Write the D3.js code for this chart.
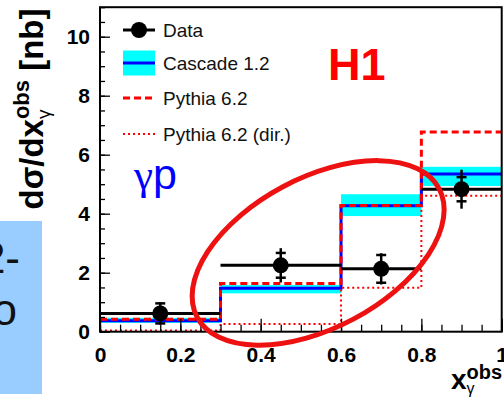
<!DOCTYPE html>
<html lang="en">
<head>
    <meta charset="UTF-8">
    <title>H1 gamma-p x_gamma cross section</title>
    <script src="https://d3js.org/d3.v7.min.js"></script>
    <style>
        body { margin: 0; background: #fff; }
        svg { display: block; font-family: "Liberation Sans", Arial, sans-serif; }
    </style>
</head>
<body>
    <div id="chart"></div>

    <script>
        // bins in x_gamma^obs and measured / predicted values (nb)
        const binEdges   = [0, 0.3, 0.6, 0.8, 1.0];
        const dataX      = [0.15, 0.45, 0.7, 0.9];
        const dataY      = [0.62, 2.25, 2.13, 4.83];
        const statErr    = [0.34, 0.42, 0.47, 0.41];
        const totErr     = [0.38, 0.58, 0.53, 0.66];
        const cascade    = [0.37, 1.47, 4.27, 5.35];
        const cascadeLo  = [0.30, 1.30, 3.92, 4.94];
        const cascadeHi  = [0.47, 1.58, 4.66, 5.59];
        const pythia     = [0.42, 1.63, 4.28, 6.77];
        const pythiaDir  = [0.04, 0.26, 1.49, 4.61];

        const xTicks = [0, 0.2, 0.4, 0.6, 0.8, 1];
        const yTicks = [0, 2, 4, 6, 8, 10];
        const legendLabels = ["Data", "Cascade 1.2", "Pythia 6.2", "Pythia 6.2 (dir.)"];

        const W = 504, H = 401;
        const margin = { top: 7.2, right: 2.3, bottom: 69.3, left: 100 };

        const svg = d3.select("#chart").append("svg")
            .attr("width", W).attr("height", H);

        const x = d3.scaleLinear().domain([0, 1]).range([margin.left, W - margin.right]);
        const y = d3.scaleLinear().domain([0, 11]).range([H - margin.bottom, margin.top]);

        // left panel fragment (from slide)
        svg.append("rect").attr("x", 0).attr("y", 221).attr("width", 42).attr("height", 173)
            .attr("fill", "#99ccff");
        svg.append("text").attr("x", 20).attr("y", 273).attr("text-anchor", "end")
            .attr("font-size", 44).attr("fill", "#111").text("2-");
        svg.append("text").attr("x", 17).attr("y", 325).attr("text-anchor", "end")
            .attr("font-size", 44).attr("fill", "#111").text("o");

        const plot = svg.append("g");

        // step helper
        function steps(vals) {
            const pts = [];
            vals.forEach((v, i) => { pts.push([binEdges[i], v]); pts.push([binEdges[i + 1], v]); });
            return pts;
        }
        const stepLine = d3.line().x(d => x(d[0])).y(d => y(d[1]));

        // cascade uncertainty band
        plot.selectAll(".band").data(cascade).enter().append("rect")
            .attr("x", (d, i) => x(binEdges[i]))
            .attr("width", (d, i) => x(binEdges[i + 1]) - x(binEdges[i]))
            .attr("y", (d, i) => y(cascadeHi[i]))
            .attr("height", (d, i) => y(cascadeLo[i]) - y(cascadeHi[i]))
            .attr("fill", "#00ffff");

        plot.append("path").attr("d", stepLine(steps(cascade)))
            .attr("fill", "none").attr("stroke", "#0000ff").attr("stroke-width", 3);
        plot.append("path").attr("d", stepLine(steps(pythia)))
            .attr("fill", "none").attr("stroke", "#ff0000").attr("stroke-width", 3)
            .attr("stroke-dasharray", "7,4");
        plot.append("path").attr("d", stepLine(steps(pythiaDir)))
            .attr("fill", "none").attr("stroke", "#ff0000").attr("stroke-width", 2)
            .attr("stroke-dasharray", "2,3");

        // data: horizontal bin widths, error bars, markers
        plot.selectAll(".xerr").data(dataY).enter().append("line")
            .attr("x1", (d, i) => x(binEdges[i])).attr("x2", (d, i) => x(binEdges[i + 1]))
            .attr("y1", d => y(d)).attr("y2", d => y(d))
            .attr("stroke", "#000").attr("stroke-width", 3);
        plot.selectAll(".yerr").data(dataY).enter().append("line")
            .attr("x1", (d, i) => x(dataX[i])).attr("x2", (d, i) => x(dataX[i]))
            .attr("y1", (d, i) => y(d + totErr[i])).attr("y2", (d, i) => y(d - totErr[i]))
            .attr("stroke", "#000").attr("stroke-width", 2.5);
        [1, -1].forEach(s => {
            plot.selectAll(".cap" + s).data(dataY).enter().append("line")
                .attr("x1", (d, i) => x(dataX[i]) - 5).attr("x2", (d, i) => x(dataX[i]) + 5)
                .attr("y1", (d, i) => y(d + s * statErr[i])).attr("y2", (d, i) => y(d + s * statErr[i]))
                .attr("stroke", "#000").attr("stroke-width", 2.5);
        });
        plot.selectAll(".pt").data(dataY).enter().append("circle")
            .attr("cx", (d, i) => x(dataX[i])).attr("cy", d => y(d)).attr("r", 8)
            .attr("fill", "#000");

        // axes with inward ticks
        const fmt = d3.format("~g");
        const xAxis = svg.append("g").attr("transform", `translate(0,${y(0)})`)
            .call(d3.axisBottom(x).tickValues(xTicks).tickFormat(fmt).tickSizeInner(-13).tickSizeOuter(0).tickPadding(15));
        svg.append("g").attr("transform", `translate(0,${y(0)})`)
            .call(d3.axisBottom(x).tickValues(d3.range(0, 1.001, 0.05)).tickFormat("").tickSizeInner(-7).tickSizeOuter(0));
        const yAxis = svg.append("g").attr("transform", `translate(${x(0)},0)`)
            .call(d3.axisLeft(y).tickValues(yTicks).tickFormat(fmt).tickSizeInner(-10).tickSizeOuter(0).tickPadding(10));
        svg.append("g").attr("transform", `translate(${x(0)},0)`)
            .call(d3.axisLeft(y).tickValues(d3.range(0, 11.001, 0.5)).tickFormat("").tickSizeInner(-5).tickSizeOuter(0));

        svg.selectAll(".domain").remove();
        svg.selectAll(".tick line").attr("stroke", "#000").attr("stroke-width", 1.3);
        svg.selectAll(".tick text").attr("font-size", 21).attr("font-weight", "bold")
            .attr("fill", "#000").attr("font-family", "Liberation Sans, Arial, sans-serif");

        // frame
        svg.append("rect").attr("x", x(0)).attr("y", y(11))
            .attr("width", x(1) - x(0)).attr("height", y(0) - y(11))
            .attr("fill", "none").attr("stroke", "#000").attr("stroke-width", 2);

        // annotation ellipse
        const ell = { cx: 0.543, cy: 2.67, rx: 137, ry: 75, angle: -28 };
        svg.append("ellipse")
            .attr("transform", `translate(${x(ell.cx)},${y(ell.cy)}) rotate(${ell.angle})`)
            .attr("rx", ell.rx).attr("ry", ell.ry)
            .attr("fill", "none").attr("stroke", "#ee1111").attr("stroke-width", 5);

        // legend
        const lg = svg.append("g").attr("transform", "translate(123,0)");
        const rowY = [30, 63, 98, 134];
        lg.append("line").attr("x1", 0).attr("x2", 32).attr("y1", rowY[0]).attr("y2", rowY[0])
            .attr("stroke", "#000").attr("stroke-width", 3);
        lg.append("circle").attr("cx", 16).attr("cy", rowY[0]).attr("r", 8).attr("fill", "#000");
        lg.append("rect").attr("x", 0).attr("y", rowY[1] - 12.5).attr("width", 32).attr("height", 25)
            .attr("fill", "#00ffff");
        lg.append("line").attr("x1", 0).attr("x2", 32).attr("y1", rowY[1]).attr("y2", rowY[1])
            .attr("stroke", "#0000ff").attr("stroke-width", 3);
        lg.append("line").attr("x1", 0).attr("x2", 32).attr("y1", rowY[2]).attr("y2", rowY[2])
            .attr("stroke", "#ff0000").attr("stroke-width", 3).attr("stroke-dasharray", "7,4");
        lg.append("line").attr("x1", 0).attr("x2", 32).attr("y1", rowY[3]).attr("y2", rowY[3])
            .attr("stroke", "#ff0000").attr("stroke-width", 2).attr("stroke-dasharray", "2,3");
        lg.selectAll(".lt").data(legendLabels).enter().append("text")
            .attr("x", 40).attr("y", (d, i) => rowY[i] + 7)
            .attr("font-size", 19).attr("fill", "#111").text(d => d);

        // H1 and gamma p labels
        svg.append("text").attr("x", 328).attr("y", 80).attr("font-size", 45)
            .attr("font-weight", "bold").attr("fill", "#ff0000").text("H1");
        svg.append("text").attr("x", 134).attr("y", 189).attr("font-size", 43).attr("fill", "#0000ff")
            .call(t => t.append("tspan").attr("font-family", "Liberation Serif, serif").text("γ"))
            .call(t => t.append("tspan").text("p"));

        // measure helper
        function textWidth(str, size, weight, family) {
            const t = svg.append("text").attr("font-size", size).attr("font-weight", weight || "normal")
                .attr("font-family", family || null).text(str);
            const w = t.node().getComputedTextLength();
            t.remove();
            return w;
        }

        // y axis title
        const obsW = textWidth("obs", 22, "bold");
        const gW = textWidth("γ", 19, "normal");
        const yt = svg.append("text").attr("transform", "translate(43,109) rotate(-90)")
            .attr("text-anchor", "middle").attr("font-weight", "bold").attr("fill", "#000");
        yt.append("tspan").attr("font-size", 33).text("dσ/dx");
        yt.append("tspan").attr("font-size", 22).attr("dy", -14).text("obs");
        yt.append("tspan").attr("font-size", 19).attr("font-weight", "normal")
            .attr("dx", -obsW).attr("dy", 21).text("γ");
        yt.append("tspan").attr("font-size", 33).attr("dx", obsW - gW).attr("dy", -7).text(" [nb]");

        // x axis title
        const xObsW = textWidth("obs", 20, "bold");
        const xt = svg.append("text").attr("x", 451).attr("y", 389)
            .attr("font-weight", "bold").attr("fill", "#000");
        xt.append("tspan").attr("font-size", 28).text("x");
        xt.append("tspan").attr("font-size", 20).attr("dy", -10).text("obs");
        xt.append("tspan").attr("font-size", 16).attr("font-weight", "normal")
            .attr("dx", -xObsW).attr("dy", 15).text("γ");
    </script>
</body>
</html>
